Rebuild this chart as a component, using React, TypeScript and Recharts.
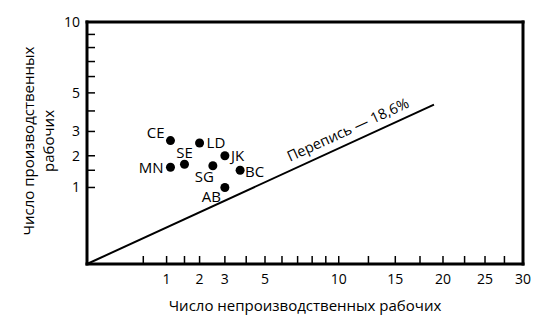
import { ScatterChart, Scatter, XAxis, YAxis, ReferenceLine, ReferenceDot, Label } from "recharts";

// Отрасли и число рабочих
const workers = ["CE", "LD", "SE", "MN", "JK", "SG", "BC", "AB"];
const nonProductive = [1.1, 2, 1.5, 1.1, 3, 2.5, 3.7, 3];
const productive = [2.6, 2.5, 1.7, 1.6, 2, 1.65, 1.5, 1];

// Доля по переписи
const censusShare = 18.6;
const censusLineEnd = 19;
const censusLabelAt = 11.2;

const xTicks = [0.5, 1, 1.5, 2, 3, 4, 5, 6, 7, 8, 9, 10, 12.5, 15, 17.5, 20, 22.5, 25, 27.5, 30];
const xLabels = [1, 2, 3, 5, 10, 15, 20, 25, 30];
const yTicksLeft = [1, 1.5, 2, 3, 4, 5, 6, 7, 8, 9, 10];
const yTicksRight = [0.5, 1, 1.5, 2, 3, 4, 5, 6, 7, 8, 9, 10];
const yLabels = [1, 2, 3, 5, 10];

const data = workers.map((name, i) => ({
  name,
  x: nonProductive[i],
  y: productive[i],
}));

const ratio = censusShare / (100 - censusShare);

// куда ставить подпись у каждой точки
const labelPos: Record<string, { dx: number; dy: number; anchor: "start" | "middle" | "end" }> = {
  CE: { dx: -6, dy: -9, anchor: "end" },
  LD: { dx: 7, dy: -1, anchor: "start" },
  SE: { dx: 0, dy: -12, anchor: "middle" },
  MN: { dx: -7, dy: 0, anchor: "end" },
  JK: { dx: 6, dy: -1, anchor: "start" },
  SG: { dx: 1, dy: 10, anchor: "end" },
  BC: { dx: 5, dy: 1, anchor: "start" },
  AB: { dx: -4, dy: 9, anchor: "end" },
};

const font = "'Open Sans', sans-serif";
const axisLine = { stroke: "#000", strokeWidth: 3, strokeLinecap: "square" as const };
const tickLine = { stroke: "#000", strokeWidth: 1.5 };

function PointShape(props: any) {
  const { cx, cy, payload } = props;
  const p = labelPos[payload.name];
  return (
    <g>
      <circle cx={cx} cy={cy} r={4.5} fill="#000" />
      <text
        x={cx + p.dx}
        y={cy + p.dy}
        textAnchor={p.anchor}
        dominantBaseline="central"
        fontSize={15}
        fontFamily={font}
        fill="#000"
      >
        {payload.name}
      </text>
    </g>
  );
}

function CensusLabel(props: any) {
  const { cx, cy } = props;
  return (
    <text
      x={cx}
      y={cy - 8}
      transform={`rotate(-24.6, ${cx}, ${cy})`}
      textAnchor="middle"
      fontSize={14.5}
      fontFamily={font}
      fill="#000"
    >
      Перепись — 18,6%
    </text>
  );
}

function YTitle(props: any) {
  const { viewBox } = props;
  const cy = viewBox.y + viewBox.height / 2 - 2;
  return (
    <text
      transform={`translate(0, ${cy}) rotate(-90)`}
      textAnchor="middle"
      fontSize={15}
      fontFamily={font}
      fill="#000"
    >
      <tspan x={0} y={34}>Число производственных</tspan>
      <tspan x={0} y={54}>рабочих</tspan>
    </text>
  );
}

export default function App() {
  return (
    <div style={{ position: "absolute", left: 0, top: 0, background: "#fff" }}>
      <ScatterChart width={556} height={326} margin={{ top: 0, right: 0, bottom: 0, left: 0 }}>
        <XAxis
          dataKey="x"
          type="number"
          scale="sqrt"
          domain={[0, 30]}
          ticks={xTicks}
          interval={0}
          height={62}
          axisLine={axisLine}
          tickLine={tickLine}
          tickSize={-8}
          tickMargin={18}
          tick={{ fill: "#000", fontSize: 14, fontFamily: font }}
          tickFormatter={(v: number) => (xLabels.includes(v) ? String(v) : "")}
        >
          <Label
            value="Число непроизводственных рабочих"
            position="insideBottom"
            offset={15}
            style={{ fill: "#000", fontSize: 15, fontFamily: font }}
          />
        </XAxis>
        <XAxis
          xAxisId="top"
          orientation="top"
          type="number"
          scale="sqrt"
          domain={[0, 30]}
          ticks={xTicks}
          interval={0}
          height={22}
          axisLine={axisLine}
          tickLine={tickLine}
          tickSize={-8}
          tickFormatter={() => ""}
        />
        <YAxis
          dataKey="y"
          type="number"
          scale="sqrt"
          domain={[0, 10]}
          ticks={yTicksLeft}
          interval={0}
          width={87}
          axisLine={axisLine}
          tickLine={tickLine}
          tickSize={-8}
          tickMargin={15}
          tick={{ fill: "#000", fontSize: 14, fontFamily: font }}
          tickFormatter={(v: number) => (yLabels.includes(v) ? String(v) : "")}
        >
          <Label content={<YTitle />} />
        </YAxis>
        <YAxis
          yAxisId="right"
          orientation="right"
          type="number"
          scale="sqrt"
          domain={[0, 10]}
          ticks={yTicksRight}
          interval={0}
          width={33}
          axisLine={axisLine}
          tickLine={tickLine}
          tickSize={-8}
          tickFormatter={() => ""}
        />
        <ReferenceLine
          segment={[
            { x: 0, y: 0 },
            { x: censusLineEnd, y: censusLineEnd * ratio },
          ]}
          stroke="#000"
          strokeWidth={2}
          ifOverflow="visible"
        />
        <ReferenceDot
          x={censusLabelAt}
          y={censusLabelAt * ratio}
          r={0}
          ifOverflow="visible"
          shape={<CensusLabel />}
        />
        <Scatter data={data} shape={<PointShape />} isAnimationActive={false} />
      </ScatterChart>
    </div>
  );
}
